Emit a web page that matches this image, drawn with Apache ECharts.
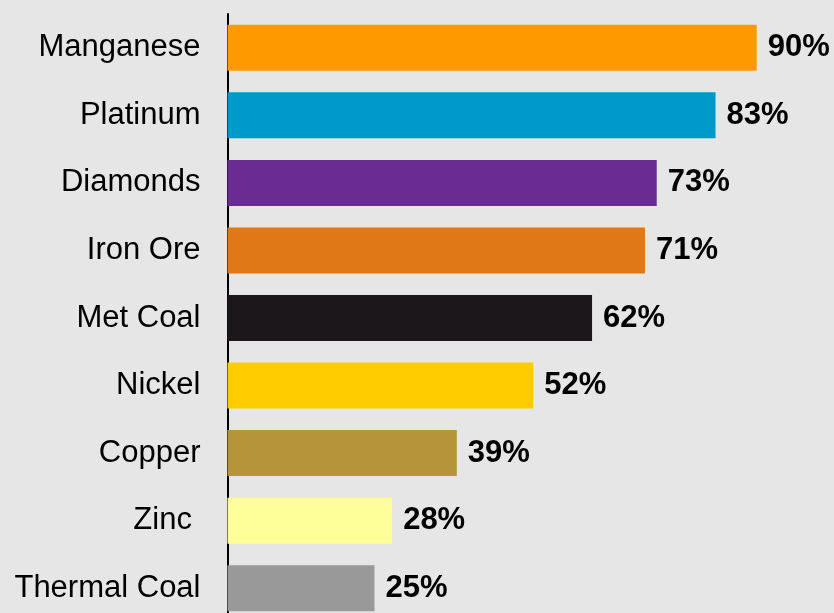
<!DOCTYPE html>
<html>
<head>
<meta charset="utf-8">
<script src="https://cdn.jsdelivr.net/npm/echarts@6/dist/echarts.min.js"></script>
<style>
  html, body { margin: 0; padding: 0; background: #e6e6e6; }
  #chart { width: 834px; height: 613px; }
</style>
</head>
<body>
<div id="chart"></div>
<script>
// Commodity shares, top to bottom
const categories = ['Manganese', 'Platinum', 'Diamonds', 'Iron Ore', 'Met Coal', 'Nickel', 'Copper', 'Zinc ', 'Thermal Coal'];
const shares = [90, 83, 73, 71, 62, 52, 39, 28, 25];

// One fill per commodity
const barColors = ['#ff9900', '#0099cc', '#6a2c91', '#e07818', '#1c171a', '#ffcc00', '#b5943a', '#ffff99', '#999999'];

const chart = echarts.init(document.getElementById('chart'));
chart.setOption({
  backgroundColor: '#e6e6e6',
  animation: false,
  grid: {
    left: 227.5, top: 14, width: 588, height: 608,
    containLabel: false,
    outerBoundsMode: 'none'
  },
  xAxis: {
    type: 'value', min: 0, max: 100,
    show: false
  },
  yAxis: {
    type: 'category',
    data: categories,
    inverse: true,
    axisLine: { show: true, lineStyle: { color: '#000', width: 2 } },
    axisTick: { show: false },
    axisLabel: {
      margin: 27,
      color: '#000',
      fontFamily: 'Liberation Sans, Arial, sans-serif',
      fontSize: 31
    },
    splitLine: { show: false }
  },
  series: [{
    type: 'bar',
    barWidth: 46,
    data: shares.map((v, i) => ({ value: v, itemStyle: { color: barColors[i] } })),
    label: {
      show: true,
      position: 'right',
      distance: 11,
      formatter: p => p.value + '%',
      color: '#000',
      fontWeight: 'bold',
      fontFamily: 'Liberation Sans, Arial, sans-serif',
      fontSize: 31
    }
  }]
});
</script>
</body>
</html>
